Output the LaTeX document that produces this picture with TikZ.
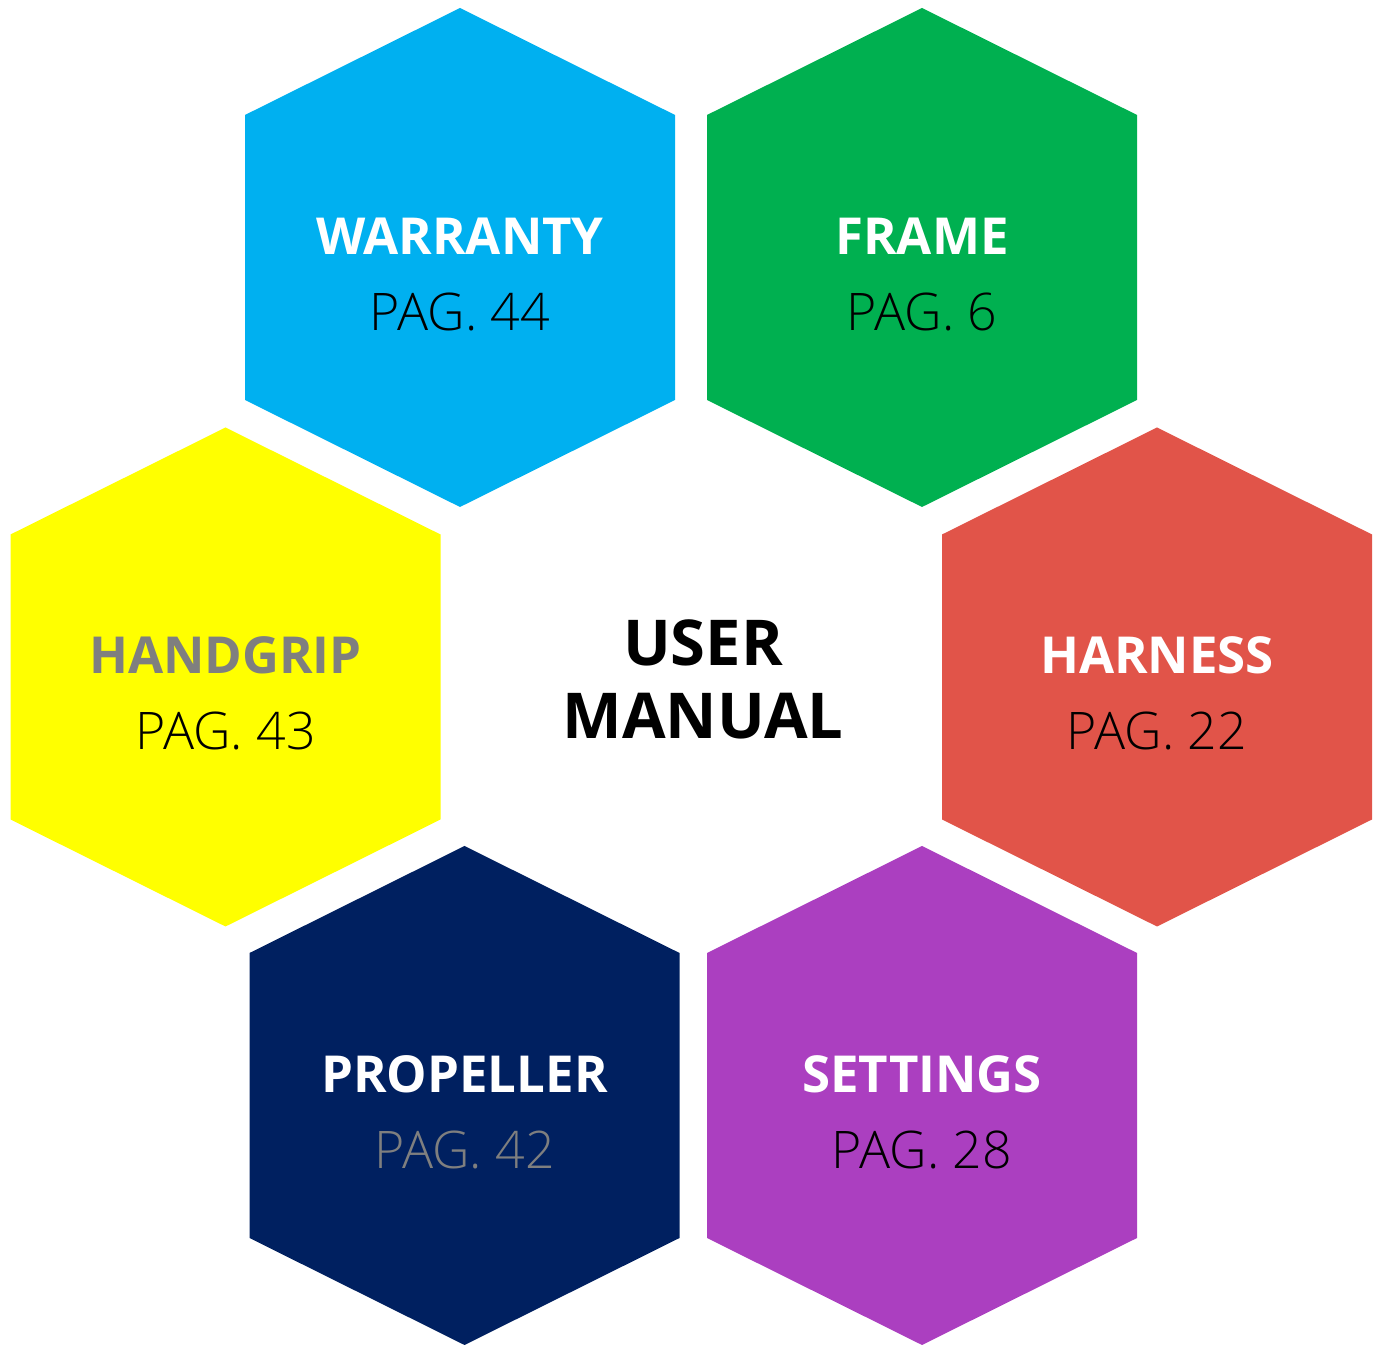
\documentclass[tikz,border=0pt]{standalone}
\usepackage{fontspec}
\setmainfont{Open Sans}
\newfontfamily\lightfont{Open Sans Light}

\definecolor{hexblue}{HTML}{00B0F0}
\definecolor{hexgreen}{HTML}{00B050}
\definecolor{hexyellow}{HTML}{FFFF00}
\definecolor{hexred}{HTML}{E15449}
\definecolor{hexnavy}{HTML}{002060}
\definecolor{hexpurple}{HTML}{AB3FC0}
\definecolor{textgray}{HTML}{7F7F7F}

\tikzset{
  hextitle/.style={font=\fontsize{29}{35}\selectfont\bfseries, anchor=base, inner sep=0pt},
  hexpage/.style={font=\lightfont\fontsize{29.5}{35}\selectfont, anchor=base, inner sep=0pt},
}

\begin{document}
\begin{tikzpicture}[x=0.02cm, y=0.02cm]
    % Canvas
    \useasboundingbox (0,0) rectangle (1381,1344);

    % Hexagons
    \foreach \name/\cx/\cy/\col in {warranty/460/1086.5/hexblue, frame/922/1086.5/hexgreen,
        handgrip/225.5/667/hexyellow, harness/1157/667/hexred,
        propeller/464.5/248.5/hexnavy, settings/922/248.5/hexpurple}
    {
        \coordinate (\name) at (\cx,\cy);
        \fill[\col] (\name) ++(0,249.5) -- ++(215,-107) -- ++(0,-285) -- ++(-215,-107)
            -- ++(-215,107) -- ++(0,285) -- cycle;
    }

    % Titles and pages
    \foreach \name/\title/\page/\tcol/\pcol in {warranty/WARRANTY/44/white/black,
        frame/FRAME/6/white/black, handgrip/HANDGRIP/43/textgray/black,
        harness/HARNESS/22/white/black, propeller/PROPELLER/42/white/textgray,
        settings/SETTINGS/28/white/black}
    {
        \node[hextitle, text=\tcol] (\name-title) at ([yshift=3*0.02cm]\name) {\title};
        \node[hexpage, text=\pcol] (\name-page) at ([yshift=-73*0.02cm]\name) {PAG. \page};
    }

    % Center label
    \node[font=\fontsize{36}{41.5}\selectfont\bfseries, align=center, inner sep=0pt] (manual) at (703,665) {USER\\MANUAL};
\end{tikzpicture}
\end{document}
